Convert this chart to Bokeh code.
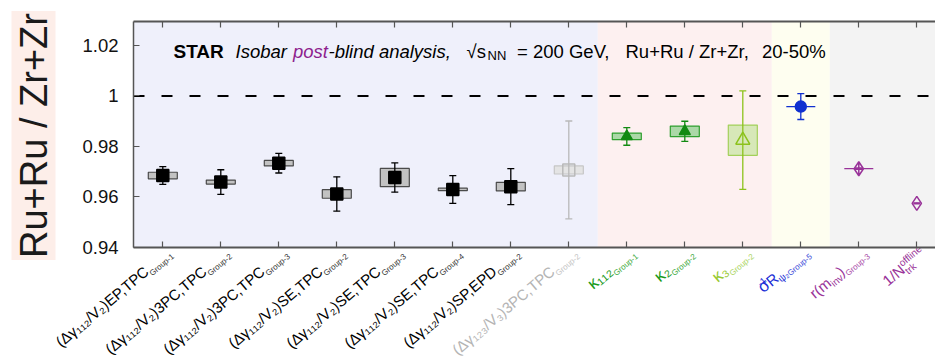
import math
from bokeh.plotting import figure
from bokeh.models import (Range1d, FixedTicker, LinearAxis, BoxAnnotation,
                          Label, PrintfTickFormatter, ColumnDataSource)
from bokeh.core.properties import value
from bokeh.embed import file_html
from bokeh.resources import INLINE

FONT = "Liberation Sans"

# x-axis observables: each label is a list of (text piece, typographic role)
tick_labels = [
    [("(Δγ₁₁₂/V₂)EP,TPC", "main"), ("Group-1", "group")],
    [("(Δγ₁₁₂/V₂)3PC,TPC", "main"), ("Group-2", "group")],
    [("(Δγ₁₁₂/V₂)3PC,TPC", "main"), ("Group-3", "group")],
    [("(Δγ₁₁₂/V₂)SE,TPC", "main"), ("Group-2", "group")],
    [("(Δγ₁₁₂/V₂)SE,TPC", "main"), ("Group-3", "group")],
    [("(Δγ₁₁₂/V₂)SE,TPC", "main"), ("Group-4", "group")],
    [("(Δγ₁₁₂/V₂)SP,EPD", "main"), ("Group-2", "group")],
    [("(Δγ₁₂₃/V₃)3PC,TPC", "main"), ("Group-2", "group")],
    [("κ₁₁₂", "big"), ("Group-1", "group")],
    [("κ₂", "big"), ("Group-2", "group")],
    [("κ₃", "big"), ("Group-2", "group")],
    [("σ", "big"), ("-1", "sup0"), ("R", "main"), ("ψ₂", "sub"), ("Group-5", "group")],
    [("r(m", "main"), ("inv", "sub"), (")", "main"), ("Group-3", "group")],
    [("1/N", "main"), ("trk", "subL"), ("offline", "supL")],
]

# Ru+Ru / Zr+Zr ratios, statistical and systematic uncertainties
ratio = [0.9685, 0.9659, 0.9734, 0.9612, 0.9677, 0.9630, 0.9641,
         0.9707, 0.9840, 0.9860, 0.9825, 0.9958, 0.9712, 0.9575]
stat_err = [0.0035, 0.0049, 0.0039, 0.0068, 0.0058, 0.0055, 0.0071,
            0.0194, 0.0035, 0.0040, 0.0195, 0.0051, 0.0003, 0.0002]
sys_err = [0.0013, 0.0008, 0.0011, 0.0017, 0.0036, 0.0005, 0.0017,
           0.0016, 0.0013, 0.0021, 0.0060, 0.0, 0.0, float("nan")]

y_ticks = [0.94, 0.96, 0.98, 1.0, 1.02]
x_pos = list(range(1, len(ratio) + 1))

# marker families (indices into the arrays above) and their look
families = [
    dict(idx=[0, 1, 2, 3, 4, 5, 6], marker="square", size=12, color="#000000", fill="#000000",
         box_fill="#c2c2c2", box_line="#4a4a4a", box_alpha=1.0, text="#000000", gtext="#333333"),
    dict(idx=[7], marker="square", size=12, color="#b9b9b9", fill=None,
         box_fill="#e4e4e4", box_line="#c6c6c6", box_alpha=1.0, text="#b4b4b4", gtext="#c4c4c4"),
    dict(idx=[8, 9], marker="triangle", size=11, color="#128a12", fill="#128a12",
         box_fill="#8fd08f", box_line="#2f9f2f", box_alpha=0.75, text="#1a9a1a", gtext="#3aa83a"),
    dict(idx=[10], marker="triangle", size=14, color="#8cc21c", fill=None,
         box_fill="#c9e6a6", box_line="#a3d05a", box_alpha=0.75, text="#97c930", gtext="#a9d45e"),
    dict(idx=[11], marker="circle", size=11, color="#1030d0", fill="#1030d0",
         box_fill=None, box_line="#1030d0", box_alpha=1.0, text="#1a2ed6", gtext="#3a4ad8"),
    dict(idx=[12], marker="diamond_cross", size=14, color="#993399", fill=None,
         box_fill=None, box_line="#993399", box_alpha=1.0, text="#993399", gtext="#a84aa8"),
    dict(idx=[13], marker="diamond", size=14, color="#993399", fill=None,
         box_fill=None, box_line="#993399", box_alpha=1.0, text="#993399", gtext="#a84aa8"),
]

# background bands, one per family block
band_colors = ["#eff0fb", "#fdf0f0", "#fefef0", "#f3f3f3"]
band_blocks = [[0, 1], [2, 3], [4], [5, 6]]

# canvas geometry: the data frame fills the whole canvas, the axes sit inside it
W, H = 935, 358
PX_X = 58.0                     # pixels per category
PX_Y = 226.0 / 0.0895           # pixels per unit of ratio
AX_L, AX_B, AX_T = 133.0, 247.0, 21.0
XA0 = 1 - (162.3 - AX_L) / PX_X         # left edge of the plotting box
XL = 1 - 162.3 / PX_X
XR = XL + W / PX_X
YA0 = 0.94
YA1 = YA0 + (AX_B - AX_T) / PX_Y
YB = YA0 - (H - AX_B) / PX_Y
YT = YA1 + AX_T / PX_Y
BOX_W = 0.5

p = figure(width=W, height=H, output_backend="svg", toolbar_location=None,
           x_range=Range1d(XL, XR), y_range=Range1d(YB, YT),
           min_border=0, x_axis_type=None, y_axis_type=None)
p.outline_line_color = None
p.grid.visible = False
p.background_fill_color = "white"
p.border_fill_color = "white"

# bands
for blk, col in zip(band_blocks, band_colors):
    idxs = [i for f in blk for i in families[f]["idx"]]
    left = XA0 if blk[0] == 0 else min(idxs) + 0.5
    right = XR if blk[-1] == len(families) - 1 else max(idxs) + 1.5
    p.add_layout(BoxAnnotation(left=left, right=right, bottom=YA0, top=YA1, fill_color=col,
                               fill_alpha=1.0, line_color=None, level="underlay"))

# axes pinned to the plotting box
axis_style = dict(axis_line_color="#555555", major_tick_line_color="#555555",
                  major_tick_out=0, minor_tick_line_color=None)
bottom = LinearAxis(ticker=FixedTicker(ticks=x_pos, minor_ticks=[]), fixed_location=YA0,
                    bounds=(XA0, XR), major_tick_in=6, major_label_text_color=None,
                    major_label_text_font_size="0px", axis_line_width=2,
                    major_tick_line_width=1.2, **axis_style)
p.add_layout(bottom, "below")
top = LinearAxis(ticker=FixedTicker(ticks=x_pos, minor_ticks=[]), fixed_location=YA1,
                 bounds=(XA0, XR), major_tick_in=6, major_label_text_color=None,
                 major_label_text_font_size="0px", axis_line_width=2,
                 major_tick_line_width=1.2, **axis_style)
p.add_layout(top, "above")
left_ax = LinearAxis(ticker=FixedTicker(ticks=y_ticks, minor_ticks=[]), fixed_location=XA0,
                     bounds=(YA0, YA1), formatter=PrintfTickFormatter(format="%g"),
                     major_label_text_font=FONT, major_label_text_font_size="18.5px",
                     major_label_text_color="#111111", major_label_standoff=15,
                     major_tick_in=6, axis_line_width=1.5, **axis_style)
p.add_layout(left_ax, "left")

# reference line at unity
p.segment(x0=[XA0], y0=[1.0], x1=[XR], y1=[1.0], line_color="black", line_width=2,
          line_dash="11 17")

# data marks
for fam in families:
    xs = [x_pos[i] for i in fam["idx"]]
    ys = [ratio[i] for i in fam["idx"]]
    st = [stat_err[i] for i in fam["idx"]]
    sy = [sys_err[i] for i in fam["idx"]]
    boxed = [k for k, s in enumerate(sy) if s > 0]
    flat = [k for k, s in enumerate(sy) if s == 0]
    if boxed:
        p.rect(x=[xs[k] for k in boxed], y=[ys[k] for k in boxed], width=BOX_W,
               height=[2 * sy[k] for k in boxed],
               fill_color=fam["box_fill"], fill_alpha=fam["box_alpha"],
               line_color=fam["box_line"], line_width=1.2)
    if flat:
        p.segment(x0=[xs[k] - BOX_W / 2 for k in flat], y0=[ys[k] for k in flat],
                  x1=[xs[k] + BOX_W / 2 for k in flat], y1=[ys[k] for k in flat],
                  line_color=fam["box_line"], line_width=1.2)
    lo = [y - e for y, e in zip(ys, st)]
    hi = [y + e for y, e in zip(ys, st)]
    p.segment(x0=xs, y0=lo, x1=xs, y1=hi, line_color=fam["color"], line_width=1.3)
    p.scatter(x=xs + xs, y=lo + hi, marker="dash", size=7, line_color=fam["color"], line_width=1.3)
    p.scatter(x=xs, y=ys, marker=fam["marker"], size=fam["size"],
              line_color=fam["color"], fill_color=fam["fill"], line_width=1.5)
    if fam["marker"] == "diamond":
        p.scatter(x=xs, y=ys, marker="dash", size=6, line_color=fam["color"], line_width=1.3)

# slanted tick labels, laid out from their right end backwards
CHAR_EM = {'G': .778, 'r': .333, 'o': .556, 'u': .556, 'p': .556, '-': .333, 'R': .722,
           'ψ': .69, 'σ': .57, 'i': .222, 'n': .556, 'v': .5, ')': .333, '(': .333,
           'm': .833, 'f': .278, 'l': .222, 'e': .556, 't': .278, 'k': .5, '/': .278,
           'N': .722, '₂': .36}
DESCENT = 0.21


def text_width(s, size):
    return size * sum(CHAR_EM.get(c, .556) for c in s)


roles = {
    "main": dict(size=15, shift=0, mode="adv", tone="text"),
    "big": dict(size=17, shift=0, mode="adv", tone="text"),
    "sub": dict(size=10, shift=3, mode="adv", tone="text"),
    "group": dict(size=8, shift=4, mode="adv", tone="gtext"),
    "sup0": dict(size=9, shift=-9, mode="r0", tone="text"),
    "supL": dict(size=10, shift=-6, mode="adv", tone="text"),
    "subL": dict(size=10, shift=4, mode="l0", tone="text"),
}
SLANT_DEG = 40
theta = math.radians(SLANT_DEG)
ux, uy = math.cos(theta), -math.sin(theta)
nx, ny = math.sin(theta), math.cos(theta)
END_DX, END_DY = 9.5, 7.0

tone_of = {}
for fam in families:
    for i in fam["idx"]:
        tone_of[i] = fam

lab = dict(x=[], y=[], text=[], align=[], size=[], color=[])
for i, pieces in enumerate(tick_labels):
    fam = tone_of[i]
    back = 0.0
    for text, role in reversed(pieces):
        r = roles[role]
        drop = r["shift"] + DESCENT * r["size"]
        px = END_DX - back * ux + drop * nx       # pixels right of the tick
        py = END_DY - back * uy + drop * ny       # pixels below the axis line
        lab["x"].append(x_pos[i] + px / PX_X)
        lab["y"].append(YA0 - py / PX_Y)
        lab["text"].append(text)
        lab["align"].append("left" if r["mode"] == "l0" else "right")
        lab["size"].append(f"{r['size']}px")
        lab["color"].append(fam[r["tone"]])
        if r["mode"] == "adv":
            back += text_width(text, r["size"])

p.text(x="x", y="y", text="text", source=ColumnDataSource(lab), angle=SLANT_DEG,
       angle_units="deg", text_align="align", text_baseline="bottom",
       text_font=value(FONT), text_font_size="size", text_color="color")

# title line inside the plotting box (screen units from the canvas' lower-left corner)
title_parts = [
    ("STAR", 173, "bold", "19px", "#000000", 0),
    ("Isobar", 235, "italic", "18.5px", "#000000", 0),
    ("post", 292.5, "italic", "18.5px", "#8e1e8e", 0),
    ("-blind analysis,", 328, "italic", "18.5px", "#000000", 0),
    ("√s", 466, "normal", "18.5px", "#000000", 0),
    ("NN", 487, "normal", "13px", "#000000", -4),
    ("= 200 GeV,", 516.5, "normal", "18.5px", "#000000", 0),
    ("Ru+Ru / Zr+Zr,", 625, "normal", "18.5px", "#000000", 0),
    ("20-50%", 761.5, "normal", "18.5px", "#000000", 0),
]
for text, ax, style, size, col, dy in title_parts:
    p.add_layout(Label(x=ax, y=H - 50.5 + dy, x_units="screen", y_units="screen",
                       text=text, text_font=FONT, text_font_style=style,
                       text_font_size=size, text_color=col, text_baseline="alphabetic",
                       text_align="left"))

# y-axis title on its tinted panel
p.add_layout(Label(x=33, y=H - 135, x_units="screen", y_units="screen",
                   text="Ru+Ru / Zr+Zr", angle=math.pi / 2, text_align="center",
                   text_baseline="middle", text_font=FONT, text_font_size="38px",
                   text_color="#1a1a1a", background_fill_color="#fdeee9",
                   padding=(2, 1)))

open("out.html", "w").write(file_html(p, INLINE))
